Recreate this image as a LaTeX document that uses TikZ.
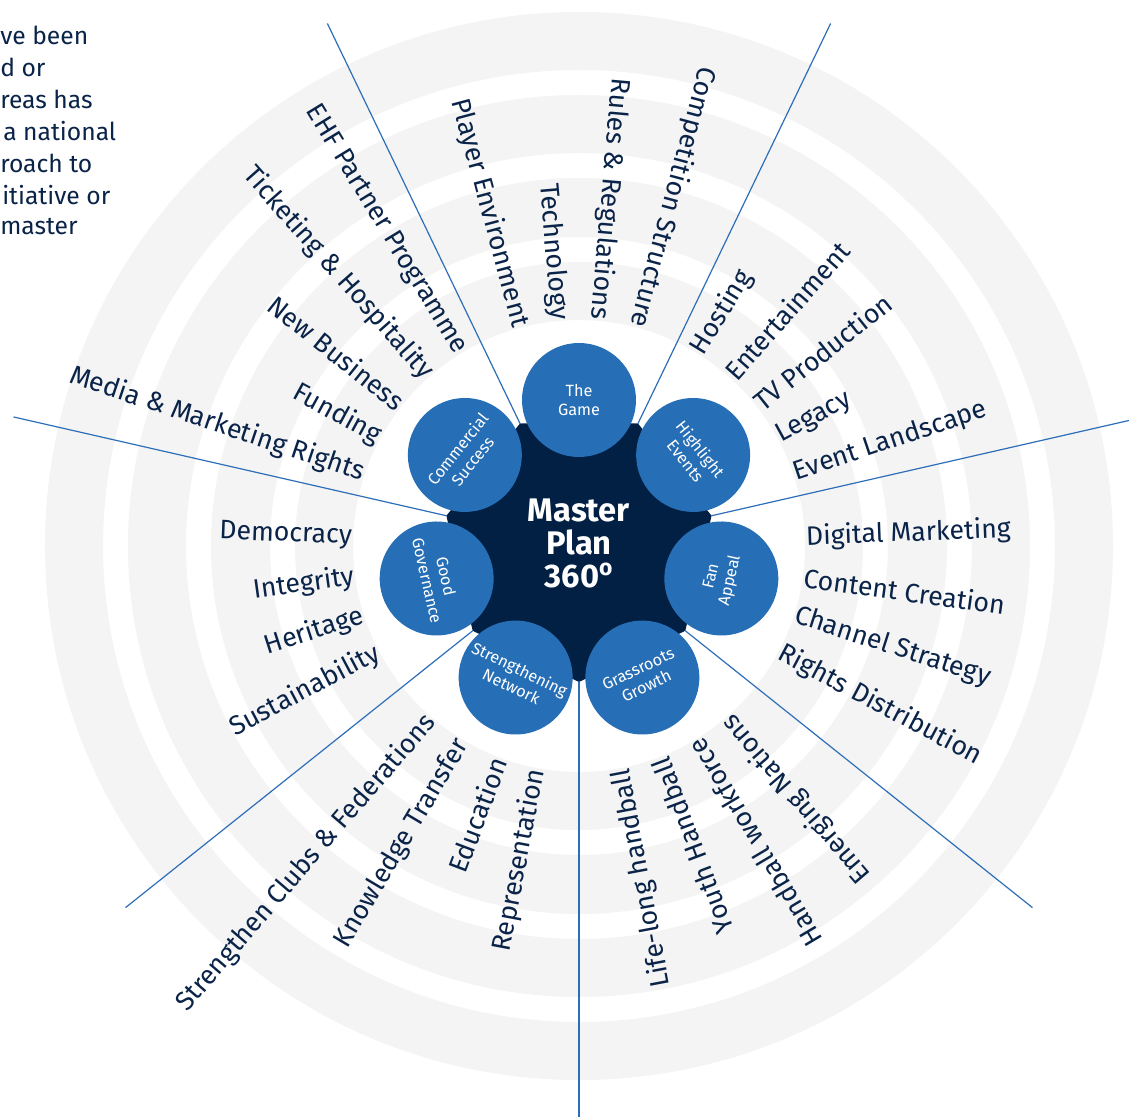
\documentclass[tikz,border=0pt]{standalone}
\usepackage{fontspec}
\setmainfont{Fira Sans}
\definecolor{hubnavy}{RGB}{2,31,68}
\definecolor{circblue}{RGB}{38,110,181}
\definecolor{spokeblue}{RGB}{45,110,185}
\definecolor{ringgray}{RGB}{244,244,244}
\definecolor{textnavy}{RGB}{10,35,72}
\begin{document}
\begin{tikzpicture}[x=0.75pt,y=0.75pt,
  lab/.style={text=textnavy, font=\fontsize{20}{20}\selectfont, inner sep=0pt},
  inlab/.style={lab, anchor=east},
  outlab/.style={lab, anchor=west},
  circ/.style={circle, fill=circblue, minimum size=85.5pt, inner sep=0pt, text=white, align=center, font=\fontsize{12.2}{14.3}\selectfont},
  spoke/.style={draw=spokeblue, line width=0.9pt},
  para/.style={text=textnavy, anchor=west, inner sep=0pt, font=\fontsize{18.5}{18.5}\selectfont}
]
\useasboundingbox (-579,546) rectangle (550,-571);
\fill[white] (-579,546) rectangle (550,-571);
% rings
\fill[ringgray, even odd rule] (0,0) circle (534) (0,0) circle (476) (0,0) circle (451) (0,0) circle (393)
  (0,0) circle (368) (0,0) circle (309) (0,0) circle (284) (0,0) circle (226);
% spokes
\foreach \a [count=\i] in {12.857,64.286,115.714,167.143,218.571,270,321.429} {
  \coordinate (v\i) at (\a:128);
  \coordinate (e\i) at (\a:580);
  \draw[spoke] (v\i) -- (e\i);
}
% hub
\fill[hubnavy, rounded corners=1pt] (270:136) -- (321.429:136) -- (12.857:136) -- (64.286:136) -- (115.714:136) -- (167.143:136) -- (218.571:136) -- cycle;
% circles
\node[circ] (game) at (90:146) {The\\Game};
\node[circ, rotate=-51.43] (high) at (38.571:146) {Highlight\\Events};
\node[circ, rotate=77.14] (fan) at (-12.857:146) {Fan\\Appeal};
\node[circ, rotate=25.71] (grass) at (-64.286:146) {Grassroots\\Growth};
\node[circ, rotate=-25.71] (stren) at (244.286:146) {Strengthening\\Network};
\node[circ, rotate=-77.14] (gov) at (192.857:146) {Good\\Governance};
\node[circ, rotate=51.43] (comm) at (141.429:146) {Commercial\\Success};
% centre
\node[text=white, align=center, inner sep=0pt, font=\bfseries\fontsize{24.5}{24.8}\selectfont] (mp) at (0,2.5) {Master\\Plan\\360\textsuperscript{o}};
% labels: The Game
\foreach \a/\t [count=\i] in {105/Player Environment, 95/Technology, 85/Rules \& Regulations, 75/Competition Structure}
  \node[inlab, rotate=\a+180] (ga\i) at (\a:227) {\t};
% Highlight Events
\foreach \a/\t [count=\i] in {58.571/Hosting, 48.571/Entertainment, 38.571/TV Production, 28.571/Legacy, 18.571/Event Landscape}
  \node[outlab, rotate=\a] (he\i) at (\a:227) {\t};
% Fan Appeal
\foreach \a/\t [count=\i] in {2.143/Digital Marketing, -7.857/Content Creation, -17.857/Channel Strategy, -27.857/Rights Distribution}
  \node[outlab, rotate=\a] (fa\i) at (\a:227) {\t};
% Grassroots Growth
\foreach \a/\t [count=\i] in {280.714/Life-long handball, 290.714/Youth Handball, 300.714/Handball workforce, 310.714/Emerging Nations}
  \node[inlab, rotate=\a+180] (gr\i) at (\a:227) {\t};
% Strengthening Network
\foreach \a/\t [count=\i] in {229.286/Strengthen Clubs \& Federations, 239.286/Knowledge Transfer, 249.286/Education, 259.286/Representation}
  \node[inlab, rotate=\a+180] (sn\i) at (\a:227) {\t};
% Good Governance
\foreach \a/\t [count=\i] in {177.857/Democracy, 187.857/Integrity, 197.857/Heritage, 207.857/Sustainability}
  \node[inlab, rotate=\a+180] (gg\i) at (\a:227) {\t};
% Commercial Success
\foreach \a/\t [count=\i] in {121.429/EHF Partner Programme, 131.429/Ticketing \& Hospitality, 141.429/New Business, 151.429/Funding, 161.429/Media \& Marketing Rights}
  \node[inlab, rotate=\a+180] (cs\i) at (\a:227) {\t};
% paragraph fragment
\node[para] (p1) at (-579,511) {ve been};
\node[para] (p2) at (-579,479) {d or};
\node[para] (p3) at (-579,447) {reas has};
\node[para] (p4) at (-576,415) {a national};
\node[para] (p5) at (-579,383) {roach to};
\node[para] (p6) at (-577,351) {itiative or};
\node[para] (p7) at (-579,319) {master};
\end{tikzpicture}
\end{document}
